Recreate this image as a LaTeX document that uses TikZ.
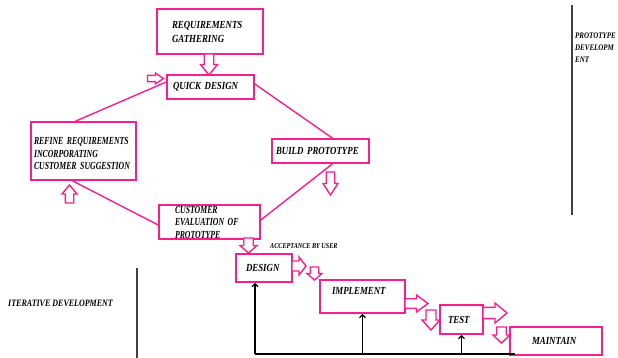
\documentclass[tikz,border=0pt]{standalone}
\usepackage{fontspec}
\setmainfont{Liberation Serif}[FakeStretch=0.82]
\newfontfamily\tightfont{Liberation Serif}[FakeStretch=0.72]
\usetikzlibrary{arrows.meta,calc}
\definecolor{pinkline}{RGB}{250,30,140}

\begin{document}
\begin{tikzpicture}[x=1pt,y=-1pt,
stage/.style={draw=pinkline,line width=1.6pt,align=left,inner xsep=0pt,inner ysep=1pt,font={\fontsize{10.8}{13}\selectfont\bfseries\itshape\hyphenpenalty=10000\spaceskip=2.6pt}},
link/.style={draw=pinkline,line width=1.4pt},
fb/.style={line width=1.3pt,-{Straight Barb[length=3pt,width=6pt]}},
sep/.style={draw=black!75,line width=1.3pt},
tag/.style={anchor=west,align=left,inner sep=0pt,font={\bfseries\itshape}},
pics/blockarrow/.style n args={2}{code={
  \draw[pinkline,line width=1.4pt,line join=miter,fill=white]
  (-#1/2,-#2*0.28) -- (0,-#2*0.28) -- (0,-#2/2) -- (#1/2,0) -- (0,#2/2) -- (0,#2*0.28) -- (-#1/2,#2*0.28) -- cycle;}}]
\useasboundingbox (0,0) rectangle (618,358);

\node[stage,minimum width=106pt,minimum height=45pt,text width=76pt,font={\fontsize{10.8}{14}\selectfont\bfseries\itshape}] (reqgather) at (210,31.5) {REQUIREMENTS\\GATHERING};
\node[stage,minimum width=87pt,minimum height=24pt,text width=75pt] (quickdesign) at (210.5,87) {QUICK~DESIGN};
\node[stage,minimum width=105pt,minimum height=58pt,text width=99pt,text height=12.5pt,font={\tightfont\fontsize{10.8}{12.5}\selectfont\bfseries\itshape\hyphenpenalty=10000\spaceskip=2.4pt}] (refine) at (83.5,151) {REFINE~REQUIREMENTS\\INCORPORATING\\CUSTOMER~SUGGESTION};
\node[stage,minimum width=97pt,minimum height=24pt,text width=89pt] (buildproto) at (320.5,151) {BUILD~PROTOTYPE};
\node[stage,minimum width=101pt,minimum height=34pt,text width=69pt,inner ysep=0pt,font={\tightfont\fontsize{10.8}{12.5}\selectfont\bfseries\itshape\hyphenpenalty=10000\spaceskip=2.4pt}] (custeval) at (209.5,222) {CUSTOMER\\EVALUATION~OF\\PROTOTYPE};
\node[stage,minimum width=56pt,minimum height=28pt,text width=36pt] (design) at (264,268) {DESIGN};
\node[stage,minimum width=85pt,minimum height=33pt,text width=61pt,text height=7pt,text depth=11.5pt] (implement) at (362.5,296.5) {IMPLEMENT};
\node[stage,minimum width=43pt,minimum height=29pt,text width=27pt] (test) at (461.5,319.5) {TEST};
\node[stage,minimum width=92pt,minimum height=28pt,text width=48pt] (maintain) at (556,341) {MAINTAIN};

% prototype loop
\draw[link] ([yshift=3pt]quickdesign.east) -- ([xshift=12pt]buildproto.north);
\draw[link] ([xshift=12pt]buildproto.south) -- ([yshift=2pt]custeval.east);
\draw[link] ([yshift=-3pt]custeval.west) -- ([xshift=-11pt]refine.south);
\draw[link] ([xshift=-8pt]refine.north) -- ([yshift=5pt]quickdesign.west);

\pic[rotate=-90] at (209,64.5) {blockarrow={21}{17}};
\pic at (155.5,78.5) {blockarrow={16}{11}};
\pic[rotate=-90] at (330.5,183.5) {blockarrow={23}{15}};
\pic[rotate=90] at (69.5,194) {blockarrow={18}{15}};
\pic[rotate=-90] at (248.5,245.5) {blockarrow={15}{17}};
\pic at (299,266) {blockarrow={14}{18}};
\pic[rotate=-90] at (314.5,273.5) {blockarrow={13}{15}};
\pic at (416.5,303.5) {blockarrow={23}{17}};
\pic[rotate=-90] at (431,320) {blockarrow={20}{18}};
\pic at (495,313) {blockarrow={24}{20}};
\pic[rotate=-90] at (501.5,335) {blockarrow={16}{17}};

% feedback of the iterations
\coordinate (loopL) at (255,354);
\coordinate (loopR) at (515,354);
\draw[line width=1.6pt] (loopL) -- (loopR);
\draw[fb] (loopL) -- (loopL |- design.south);
\draw[fb] (implement.south |- loopL) -- (implement.south);
\draw[fb] (test.south |- loopL) -- (test.south);

% separators
\coordinate (sepA) at (137,268);
\coordinate (sepB) at (137,358);
\coordinate (sepC) at (572,5);
\coordinate (sepD) at (572,215);
\draw[sep] (sepA) -- (sepB);
\draw[sep] (sepC) -- (sepD);

\node[tag,font={\fontsize{7.5}{8}\selectfont\bfseries\itshape}] (accept) at (270,246) {ACCEPTANCE BY USER};
\node[tag,font={\fontsize{9.75}{10}\selectfont\bfseries\itshape}] (iterdev) at (8,303) {ITERATIVE DEVELOPMENT};
\node[tag,anchor=north west,font={\fontsize{8.5}{12}\selectfont\bfseries\itshape}] (protodev) at (575,33) {PROTOTYPE\\DEVELOPM\\ENT};
\end{tikzpicture}
\end{document}
